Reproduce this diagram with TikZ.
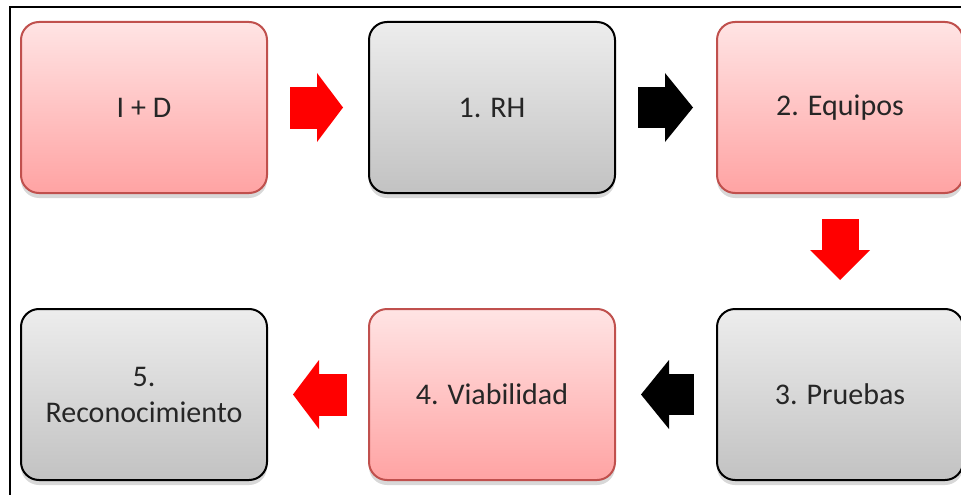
\documentclass[tikz,border=0pt]{standalone}
\usepackage{fontspec}
\setmainfont{Carlito}
\usepackage{tikz}
\usetikzlibrary{positioning,arrows.meta,shadows}
\definecolor{rosaclaro}{HTML}{FFE4E4}
\definecolor{rosa}{HTML}{FFA3A3}
\definecolor{bordeRosa}{HTML}{C0504D}
\definecolor{grisclaro}{HTML}{EDEDED}
\definecolor{gris}{HTML}{C2C2C2}
\definecolor{texto}{HTML}{262626}

\begin{document}
\begin{tikzpicture}[x=1pt, y=-1pt, node distance=114pt and 100pt,
    caja/.style={rounded corners=18pt, minimum width=246pt, minimum height=171pt, align=center, text=texto,
        font=\fontsize{30}{36}\selectfont, drop shadow={shadow xshift=0pt, shadow yshift=-5pt, opacity=0.3}},
    cajarosa/.style={caja, draw=bordeRosa, line width=2pt, top color=rosaclaro, bottom color=rosa},
    cajagris/.style={caja, draw=black, line width=2pt, top color=grisclaro, bottom color=gris},
    flecharoja/.style={red, line width=42pt, -{Triangle[length=26pt, width=69pt, line width=0pt]}},
    flechanegra/.style={black, line width=41pt, -{Triangle[length=28pt, width=69pt, line width=0pt]}}]
    \useasboundingbox[fill=white] (0,0) rectangle (961,495);
    \draw[line width=1.8pt] (10,495) -- (10,7) -- (961,7);

    \node[cajarosa] (id) at (144,107.5) {I + D};
    \node[cajagris, right=of id] (rh) {1. RH};
    \node[cajarosa, right=of rh] (eq) {2. Equipos};
    \node[cajagris, below=of id] (re) {5.\\Reconocimiento};
    \node[cajarosa, right=of re] (vi) {4. Viabilidad};
    \node[cajagris, right=of vi] (pr) {3. Pruebas};

    \draw[flecharoja, shorten <=22pt, shorten >=25pt] (id) -- (rh);
    \draw[flechanegra, shorten <=22pt, shorten >=23pt] (rh) -- (eq);
    \draw[flecharoja, line width=37pt, -{Triangle[length=30pt, width=60pt, line width=0pt]}, shorten <=25pt, shorten >=28pt] (eq) -- (pr);
    \draw[flechanegra, shorten <=22pt, shorten >=25pt] (pr) -- (vi);
    \draw[flecharoja, shorten <=21pt, shorten >=25pt] (vi) -- (re);
\end{tikzpicture}
\end{document}
